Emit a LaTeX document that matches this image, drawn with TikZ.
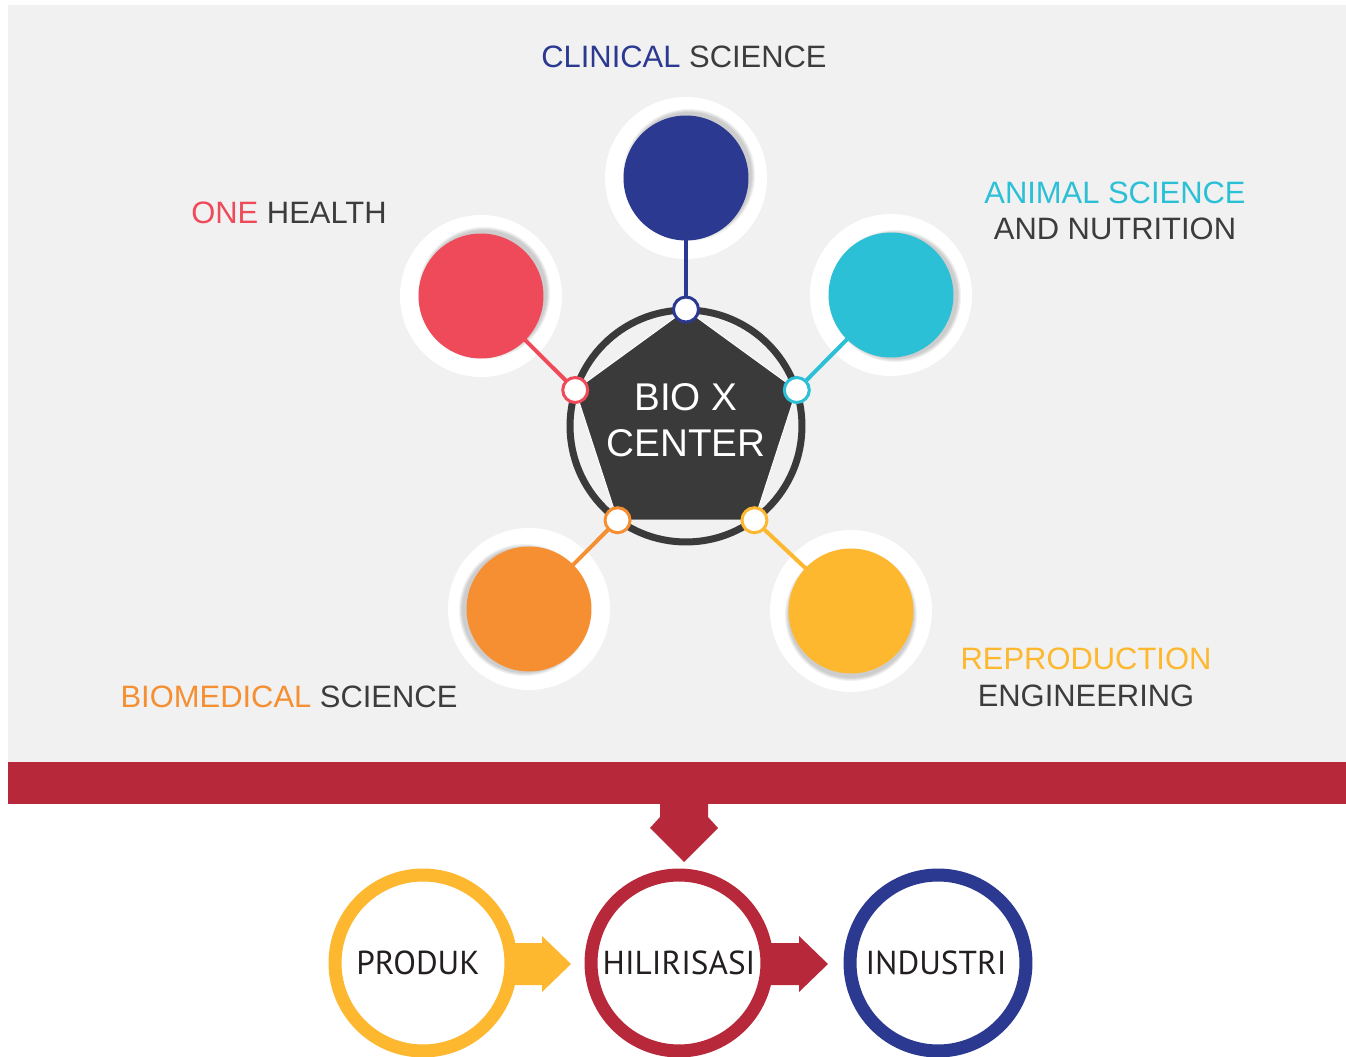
\documentclass[tikz,border=0pt]{standalone}
\usepackage{fontspec}
\setmainfont{Liberation Sans}
\newfontfamily\bottomfont{PT Sans}
\usetikzlibrary{shapes.geometric,calc}
\definecolor{navy}{HTML}{2B3990}
\definecolor{pink}{HTML}{EF4A5A}
\definecolor{cyanc}{HTML}{2BC0D6}
\definecolor{orangec}{HTML}{F58F31}
\definecolor{yellowc}{HTML}{FDB82F}
\definecolor{darkc}{HTML}{3A3A3A}
\definecolor{txt}{HTML}{3C3C3C}
\definecolor{barred}{HTML}{B6283A}
\definecolor{bggray}{HTML}{F1F1F1}
\definecolor{btext}{HTML}{231F20}
\begin{document}
\begin{tikzpicture}[x=0.02cm,y=-0.02cm,
  halo/.style={circle,fill=white,minimum size=3.24cm,inner sep=0,outer sep=0},
  bigc/.style={circle,fill=#1,minimum size=2.5cm,inner sep=0,outer sep=0},
  dotc/.style={circle,draw=#1,fill=white,line width=0.06cm,minimum size=0.5cm,inner sep=0,outer sep=0},
  link/.style={draw=#1,line width=0.08cm},
  lab/.style={font=\fontsize{17.6}{20}\selectfont,text=txt,inner sep=0},
  bring/.style={circle,draw=#1,line width=0.26cm,minimum size=3.52cm,inner sep=0,outer sep=0,fill=white},
  btxt/.style={font=\bottomfont\fontsize{18.9}{22}\selectfont,text=btext,inner sep=0}
]
\useasboundingbox (0,0) rectangle (1346,1057);
\fill[white] (0,0) rectangle (1346,1057);
\fill[bggray] (8,5) rectangle (1346,762);
\fill[barred] (8,762) rectangle (1346,804);

% halos
\node[halo] (csh) at (686,178) {};
\node[halo] (ohh) at (481,296) {};
\node[halo] (ash) at (891,295) {};
\node[halo] (bmh) at (529,609) {};
\node[halo] (reh) at (851,611) {};

% one-sided soft shadows
\foreach \cx/\cy/\dx/\dy in {686/178/3/-3, 481/296/3/-3, 891/295/4/1, 529/609/-4/1, 851/611/0/4}{
  \foreach \rr in {1.26,1.28,1.30,1.32}{
    \fill[black,opacity=0.05] (\cx+\dx,\cy+\dy) circle (\rr cm);
  }
}

% big circles
\node[bigc=navy] (cs) at (686,178) {};
\node[bigc=pink] (oh) at (481,296) {};
\node[bigc=cyanc] (as) at (891,295) {};
\node[bigc=orangec] (bm) at (529,609) {};
\node[bigc=yellowc] (re) at (851,611) {};

% centre
\node[circle,draw=darkc,line width=0.14cm,minimum size=4.64cm,inner sep=0,outer sep=0] (ring) at (686,426) {};
\node[regular polygon,regular polygon sides=5,minimum size=4.66cm,fill=darkc,draw=white,line width=0.02cm,inner sep=0,outer sep=0] (pent) at (686,426) {};
\node[text=white,font=\fontsize{22}{26}\selectfont,align=center,inner sep=0] (bio) at (686,420) {BIO X\\CENTER};

% dots
\node[dotc=navy] (d1) at (pent.corner 1) {};
\node[dotc=pink] (d2) at (pent.corner 2) {};
\node[dotc=orangec] (d3) at (pent.corner 3) {};
\node[dotc=yellowc] (d4) at (pent.corner 4) {};
\node[dotc=cyanc] (d5) at (pent.corner 5) {};

% links
\draw[link=navy] (cs) -- (d1);
\draw[link=pink] (oh) -- (d2);
\draw[link=orangec] (bm) -- (d3);
\draw[link=yellowc] (re) -- (d4);
\draw[link=cyanc] (as) -- (d5);

% labels
\node[lab] (lcs) at (684,57) {\textcolor{navy}{CLINICAL} SCIENCE};
\node[lab] (loh) at (289,213) {\textcolor{pink}{ONE} HEALTH};
\node[lab,text=cyanc] (las1) at (1115,193) {ANIMAL SCIENCE};
\node[lab] (las2) at (1115,229) {AND NUTRITION};
\node[lab] (lbm) at (289,697) {\textcolor{orangec}{BIOMEDICAL} SCIENCE};
\node[lab,text=yellowc] (lre1) at (1086,659) {REPRODUCTION};
\node[lab] (lre2) at (1086,696) {ENGINEERING};

% down arrow
\fill[barred] (660,803) -- (708,803) -- (708,817) -- (718,828) -- (684,862) -- (650,828) -- (660,817) -- cycle;

% bottom circles
\node[bring=yellowc] (pr) at (423,963) {};
\node[bring=barred] (hi) at (679,963) {};
\node[bring=navy] (in) at (938,963) {};
\node[btxt] (tpr) at (418,963) {PRODUK};
\node[btxt] (thi) at (679,963) {HILIRISASI};
\node[btxt] (tin) at (936,963) {INDUSTRI};

% side arrows
\fill[yellowc] (513,943) -- (542,943) -- (542,936) -- (571,964) -- (542,992) -- (542,985) -- (513,985) -- cycle;
\fill[barred] (770,943) -- (799,943) -- (799,936) -- (828,964) -- (799,992) -- (799,985) -- (770,985) -- cycle;
\end{tikzpicture}
\end{document}
